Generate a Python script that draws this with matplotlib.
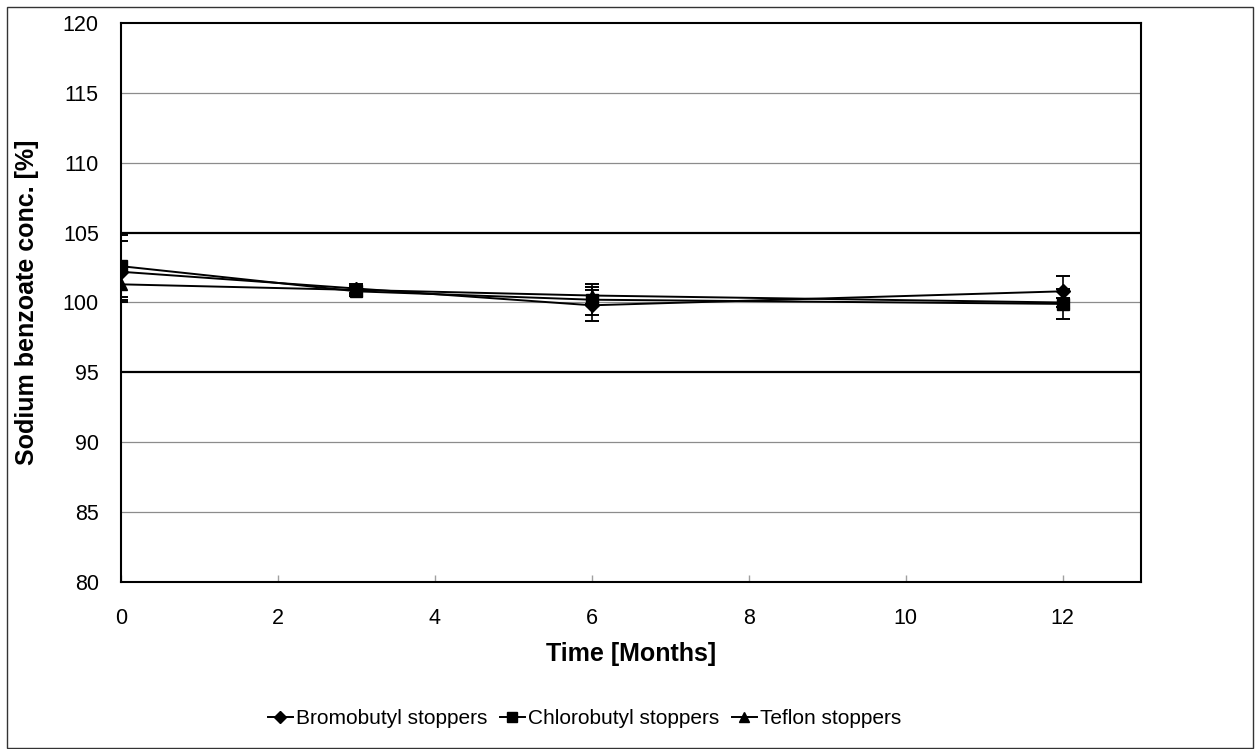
import matplotlib.pyplot as plt
from matplotlib.lines import Line2D
from matplotlib.patches import Rectangle

plt.rcParams["font.family"] = ["Liberation Sans", "DejaVu Sans"]

months = [0, 3, 6, 12]
bromo = [102.2, 101.0, 99.8, 100.8]
bromo_err = [2.2, 0.3, 1.1, 1.1]
chloro = [102.6, 100.8, 100.2, 99.9]
chloro_err = [2.2, 0.3, 1.1, 1.1]
teflon = [101.3, 100.9, 100.5, 100.0]
teflon_err = [1.1, 0.3, 0.6, 0.3]

W, H = 1255, 749
fig = plt.figure(figsize=(W / 100, H / 100), dpi=100)
fig.patches.append(Rectangle((7 / W, 1 / H), 1246 / W, 741 / H, transform=fig.transFigure,
                             fill=False, edgecolor="#333333", lw=1.0))
ax = fig.add_axes([121 / W, 1 - 582 / H, 1020 / W, 559 / H])

for y in range(85, 120, 5):
    if y in (95, 105):
        ax.axhline(y, color="black", lw=1.6, zorder=1)
    else:
        ax.axhline(y, color="#8c8c8c", lw=0.9, zorder=1)

series = [
    (bromo, bromo_err, "D", 7, "Bromobutyl stoppers"),
    (chloro, chloro_err, "s", 8.5, "Chlorobutyl stoppers"),
    (teflon, teflon_err, "^", 8.5, "Teflon stoppers"),
]
handles = []
for vals, err, mk, ms, lab in series:
    ax.errorbar(months, vals, yerr=err, color="black", lw=1.4, marker=mk, ms=ms,
                capsize=5, elinewidth=1.2, capthick=1.4, zorder=3)
    handles.append(Line2D([], [], color="black", lw=1.4, marker=mk, ms=ms * 0.85, label=lab))

ax.set_xlim(0, 13)
ax.set_ylim(80, 120)
ax.set_xticks(range(0, 13, 2))
ax.set_yticks(range(80, 121, 5))
ax.tick_params(axis="x", labelsize=15.5, direction="in", length=5, width=1,
               color="#a0a0a0", pad=19)
ax.tick_params(axis="y", labelsize=15.5, length=0, pad=16)
for s in ax.spines.values():
    s.set_linewidth(1.5)
ax.set_xlabel("Time [Months]", fontsize=18, fontweight="bold", labelpad=9)
ax.set_ylabel("Sodium benzoate conc. [%]", fontsize=18, fontweight="bold", labelpad=17)

fig.legend(handles=handles, loc="center left", bbox_to_anchor=(249 / W, 1 - 719 / H), ncol=3,
           frameon=False, fontsize=15, handlelength=1.2, handletextpad=0.15,
           columnspacing=0.6)

plt.savefig("out.png", dpi=100)
